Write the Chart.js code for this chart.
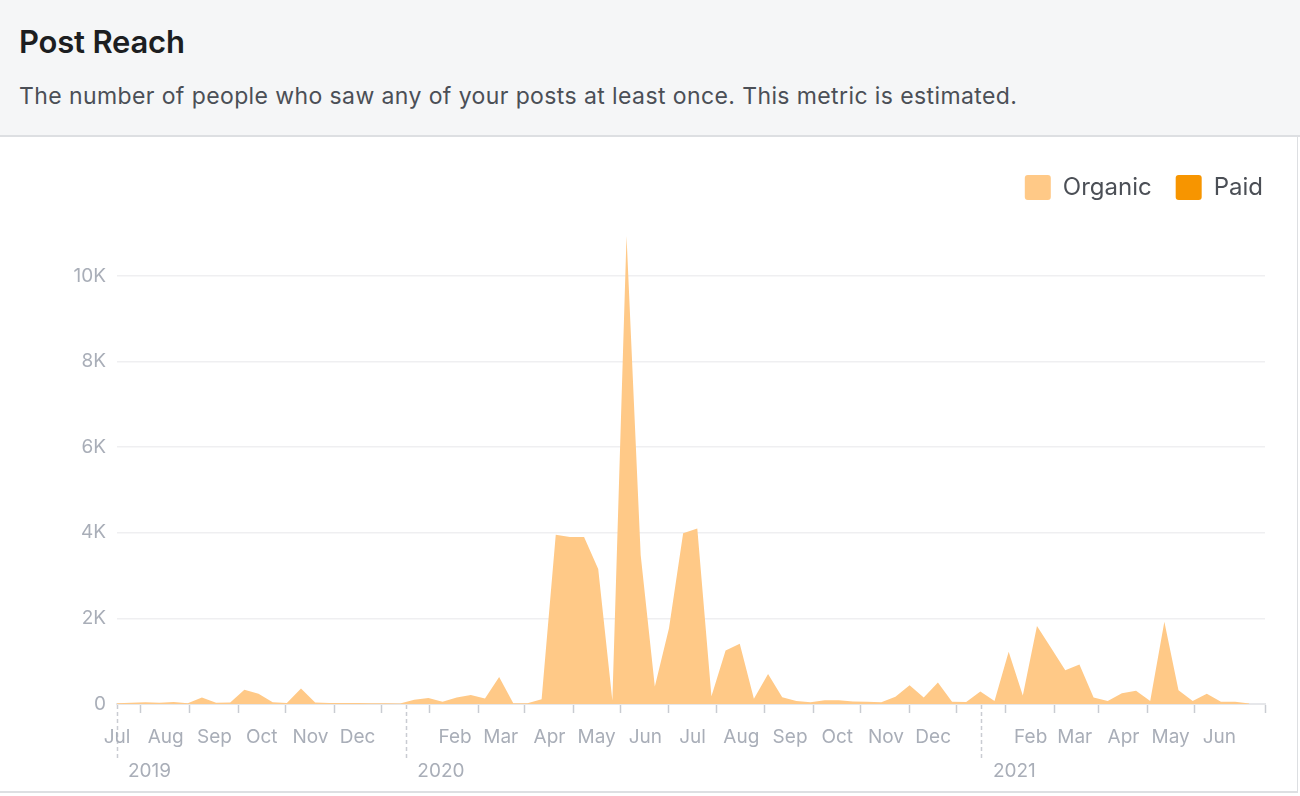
<!DOCTYPE html>
<html>
<head>
<meta charset="utf-8">
<title>Post Reach</title>
<script src="https://cdn.jsdelivr.net/npm/chart.js@4.4.1/dist/chart.umd.min.js"></script>
<style>
  html, body { margin: 0; padding: 0; background: #ffffff; }
  body { width: 1300px; height: 796px; overflow: hidden; font-family: Inter, "Noto Sans", sans-serif; }
  .head {
    position: absolute; left: 0; top: 0; width: 1300px; height: 135px;
    background: #f5f6f7; border-bottom: 2px solid #dddfe2;
  }
  .head h1 {
    position: absolute; left: 19px; top: 23px; margin: 0; line-height: normal;
    font-size: 31px; font-weight: 600; color: #1c1e21; letter-spacing: -0.2px;
  }
  .head p {
    position: absolute; left: 19px; top: 82px; margin: 0; line-height: normal;
    font-size: 23px; font-weight: 400; color: #4b4f56; letter-spacing: 0.4px;
  }
  .body {
    position: absolute; left: 0; top: 137px; width: 1297px; height: 654px;
    border-right: 1px solid #dddfe2; border-bottom: 2px solid #dddfe2;
  }
</style>
</head>
<body>
<div class="head">
  <h1>Post Reach</h1>
  <p>The number of people who saw any of your posts at least once. This metric is estimated.</p>
</div>
<div class="body">
  <canvas id="reach-chart" width="1297" height="654"></canvas>
</div>
<script>
// one point every 9 days, starting 1 Jul 2019
const sampleDays = 9;

const organicReach = [
  20, 30, 40, 30, 45, 20, 150, 30, 35, 330,
  240, 40, 25, 360, 35, 25, 25, 25, 20, 15,
  10, 100, 140, 50, 150, 210, 130, 630, 20, 20,
  110, 3950, 3900, 3900, 3150, 80, 10930, 3480, 410, 1770,
  3990, 4100, 180, 1250, 1410, 120, 700, 160, 70, 40,
  90, 85, 60, 55, 40, 170, 440, 150, 500, 50,
  45, 290, 70, 1220, 200, 1820, 1310, 790, 920, 150,
  70, 250, 310, 70, 1920, 320, 70, 240, 50, 50,
  10
];

const paidReach = [
  0, 0, 0, 0, 0, 0, 0, 0, 0, 0,
  0, 0, 0, 0, 0, 0, 0, 0, 0, 0,
  0, 0, 0, 0, 0, 0, 0, 0, 0, 0,
  0, 0, 0, 0, 0, 0, 0, 0, 0, 0,
  0, 0, 0, 0, 0, 0, 0, 0, 0, 0,
  0, 0, 0, 0, 0, 0, 0, 0, 0, 0,
  0, 0, 0, 0, 0, 0, 0, 0, 0, 0,
  0, 0, 0, 0, 0, 0, 0, 0, 0, 0,
  0
];

// Jul 2019 .. Jun 2021, January is shown as the year instead
const monthLabels = [
  "Jul", "Aug", "Sep", "Oct", "Nov", "Dec", "", "Feb", "Mar", "Apr", "May", "Jun",
  "Jul", "Aug", "Sep", "Oct", "Nov", "Dec", "", "Feb", "Mar", "Apr", "May", "Jun"
];
const yearLabels = ["2019", "2020", "2021"];
const yTickValues = [0, 2000, 4000, 6000, 8000, 10000];
const yTickLabels = ["0", "2K", "4K", "6K", "8K", "10K"];

const startUTC = Date.UTC(2019, 6, 1);
function dayOf(year, month, day) {
  return Math.round((Date.UTC(year, month, day) - startUTC) / 864e5);
}

const monthStartDays = monthLabels.map((m, i) => dayOf(2019, 6 + i, 1));
const tickMarkDays = monthLabels.slice(0, 23).map((m, i) => dayOf(2019, 6 + i, 16));
const yearDays = [dayOf(2019, 6, 1), dayOf(2020, 0, 1), dayOf(2021, 0, 1)];
const axisEndDay = dayOf(2021, 5, 30);

const tickColor = "#a9aeb8";
const tickFont = { family: "Inter, 'Noto Sans', sans-serif", size: 19 };

// push the plot area down a bit under the legend
const legendSpacing = {
  id: "legendSpacing",
  beforeInit(chart) {
    const fit = chart.legend.fit;
    chart.legend.fit = function () {
      fit.bind(chart.legend)();
      this.height += 23;
    };
  },
};

const chartCanvas = document.getElementById("reach-chart");

const reachChart = new Chart(chartCanvas, {
  type: "line",
  data: {
    datasets: [
      {
        label: "Organic",
        data: organicReach.map((v, i) => ({ x: i * sampleDays, y: v })),
        backgroundColor: "#ffc987",
        borderColor: "#ffc987",
        borderWidth: 0,
        pointRadius: 0,
        tension: 0,
        fill: "origin",
      },
      {
        label: "Paid",
        data: paidReach.map((v, i) => ({ x: i * sampleDays, y: v })),
        backgroundColor: "#f79500",
        borderColor: "#f79500",
        borderWidth: 0,
        pointRadius: 0,
        tension: 0,
        fill: "origin",
      },
    ],
  },
  options: {
    responsive: false,
    animation: false,
    layout: {
      padding: { top: 14, left: 0, right: 10, bottom: 0 },
    },
    scales: {
      x: {
        type: "linear",
        position: "bottom",
        weight: 1,
        min: 0,
        max: axisEndDay,
        afterBuildTicks: (scale) => {
          scale.ticks = tickMarkDays.concat(yearDays, [axisEndDay]).map((v) => ({ value: v }));
        },
        ticks: { display: false },
        grid: {
          drawOnChartArea: false,
          drawTicks: true,
          tickLength: 56,
          tickWidth: 1.5,
          tickColor: "#c9ccd2",
          tickBorderDash: (ctx) => (yearDays.includes(ctx.tick.value) ? [4, 3] : [8, 200]),
        },
        border: { display: true, color: "#e6e7ea", width: 2 },
        afterFit: (scale) => {
          scale.height = 1;
        },
      },
      months: {
        type: "linear",
        position: "bottom",
        weight: 2,
        min: 0,
        max: axisEndDay,
        afterBuildTicks: (scale) => {
          scale.ticks = monthStartDays.map((v) => ({ value: v }));
        },
        ticks: {
          autoSkip: false,
          maxRotation: 0,
          padding: 13,
          color: tickColor,
          font: tickFont,
          callback: (value, index) => monthLabels[index],
        },
        grid: { display: false },
        border: { display: false },
        afterFit: (scale) => {
          scale.height = 46;
          scale.paddingRight = 32;
        },
      },
      years: {
        type: "linear",
        position: "bottom",
        weight: 3,
        min: 0,
        max: axisEndDay,
        afterBuildTicks: (scale) => {
          scale.ticks = yearDays.map((v) => ({ value: v }));
        },
        ticks: {
          autoSkip: false,
          maxRotation: 0,
          align: "start",
          labelOffset: 11,
          padding: 1,
          color: tickColor,
          font: tickFont,
          callback: (value, index) => yearLabels[index],
        },
        grid: { display: false },
        border: { display: false },
        afterFit: (scale) => {
          scale.height = 40;
        },
      },
      y: {
        min: 0,
        max: 11000,
        afterBuildTicks: (scale) => {
          scale.ticks = yTickValues.map((v) => ({ value: v }));
        },
        ticks: {
          padding: 11,
          color: tickColor,
          font: tickFont,
          callback: (value, index) => yTickLabels[index],
        },
        grid: { color: "#efeff1", lineWidth: 1.5, drawTicks: false },
        border: { display: false },
        afterFit: (scale) => {
          scale.width = 117;
        },
      },
    },
    plugins: {
      legend: {
        position: "top",
        align: "end",
        labels: {
          boxWidth: 26,
          boxHeight: 25,
          padding: 24,
          useBorderRadius: true,
          borderRadius: 3,
          color: "#4b4f56",
          font: { family: "Inter, 'Noto Sans', sans-serif", size: 24 },
        },
      },
      tooltip: { enabled: false },
    },
  },
  plugins: [legendSpacing],
});
</script>
</body>
</html>
